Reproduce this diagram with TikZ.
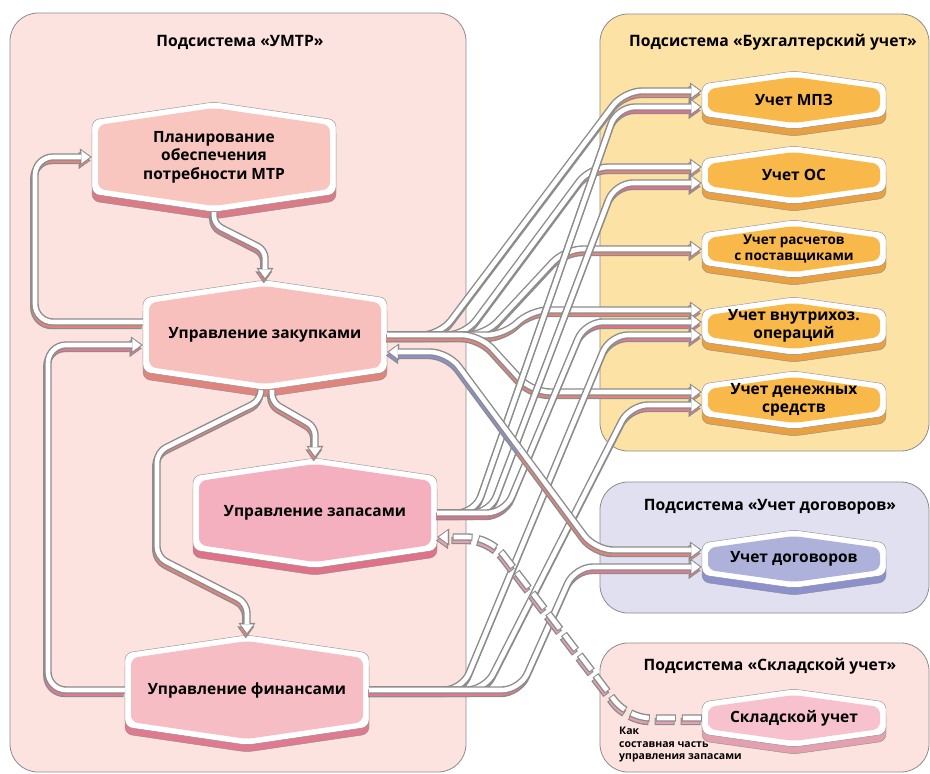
\documentclass[tikz,border=0pt]{standalone}
\usepackage{fontspec}
\setmainfont{Open Sans}
\usepackage{tikz}
\usetikzlibrary{arrows.meta}

% hexagon outline round the origin: half width, peak, side
\newcommand{\hexpath}[3]{({-(#1)},0) -- ({-(#1)},{-(#3)}) -- (0,{-(#2)}) -- ({#1},{-(#3)}) -- ({#1},{#3}) -- (0,{#2}) -- ({-(#1)},{#3}) -- cycle}
% [node options], name, centre, half width, peak, side, colour prefix, text
\newcommand{\hexbox}[8][]{%
	\begin{scope}[shift={(#3)},rounded corners=7pt]
		\filldraw[draw=linegray,fill=#7shade,shift={(0,7)}] \hexpath{#4}{#5}{#6};
		\filldraw[draw=linegray,fill=white] \hexpath{#4}{#5}{#6};
		\fill[#7fill] \hexpath{#4-6}{#5-6}{#6-5};
	\end{scope}
	\node[hexlabel,minimum width={2*#4},minimum height={2*#5},#1] (#2) at (#3) {#8};
}
% [options], shadow colour, path
\newcommand{\pipe}[3][]{%
	\begin{scope}[transform canvas={xshift=-1.2pt,yshift=-3.5pt}]
		\draw[pipeline=#2,#1] #3;
	\end{scope}
	\draw[pipeline=white,#1] #3;
}

\begin{document}
\begin{tikzpicture}
		[x=1pt,y=-1pt,
		%Styles
		panel/.style={draw=linegray,line width=0.8pt,rounded corners=28pt},
		title/.style={font=\bfseries\fontsize{15.7}{18}\selectfont,inner sep=0pt},
		hexlabel/.style={font=\bfseries\fontsize{15.5}{18.5}\selectfont,align=center,inner sep=0pt},
		note/.style={font=\bfseries\fontsize{10.5}{12.5}\selectfont,align=left,inner sep=0pt},
		pipeedge/.style={solid},
		pipeline/.style={draw=#1,line width=4.6pt,rounded corners=18pt,
			-{Triangle[length=8.6pt,width=12.6pt,line width=0.4pt]},shorten >=1.9pt,
			preaction={draw=linegray,line width=7.4pt,shorten >=0pt,pipeedge,
				-{Triangle[length=12pt,width=17pt,line width=0.4pt]}}},
		dashes/.style={dash pattern=on 18pt off 8pt,dash phase=25pt,
			pipeedge/.style={dash pattern=on 20pt off 6pt,dash phase=0pt}}
		]
		
		%Colors
		\definecolor{linegray}{HTML}{8C8C8C}
		\definecolor{panelpink}{HTML}{FDE3E0}
		\definecolor{panelyellow}{HTML}{FDE2A6}
		\definecolor{panelviolet}{HTML}{E0E0F0}
		\definecolor{planfill}{HTML}{F8C5BF}
		\definecolor{planshade}{HTML}{D97C87}
		\definecolor{zakfill}{HTML}{F8C0BD}
		\definecolor{zakshade}{HTML}{E0857E}
		\definecolor{zapfill}{HTML}{F5B0C0}
		\definecolor{zapshade}{HTML}{DF7189}
		\definecolor{finfill}{HTML}{F7BDC5}
		\definecolor{finshade}{HTML}{E07A90}
		\definecolor{acctfill}{HTML}{F8B84A}
		\definecolor{acctshade}{HTML}{E8A040}
		\definecolor{dogfill}{HTML}{AEB1D9}
		\definecolor{dogshade}{HTML}{8C90CC}
		\definecolor{skladfill}{HTML}{F7C2CE}
		\definecolor{skladshade}{HTML}{E5A0B0}
		
		\useasboundingbox (0,0) rectangle (930,774);
		
		%Subsystems
		\draw[panel,fill=panelpink] (10,13) rectangle (466,772);
		\draw[panel,fill=panelyellow] (600,14) rectangle (929,451);
		\draw[panel,fill=panelviolet] (600,482) rectangle (929,613);
		\draw[panel,fill=panelpink] (600,643) rectangle (929,772);
		\node[title] (tumtr) at (240,42) {Подсистема «УМТР»};
		\node[title] (tacct) at (773,42) {Подсистема «Бухгалтерский учет»};
		\node[title] (tdog) at (770,507) {Подсистема «Учет договоров»};
		\node[title] (tsklad) at (770,666) {Подсистема «Складской учет»};
		
		%The graphic
		\hexbox{plan}{214,157}{122}{55}{37}{plan}{Планирование\\обеспечения\\потребности МТР}
		\hexbox{zak}{265,335}{122}{55}{37}{zak}{Управление закупками}
		\hexbox{zap}{315,513}{122}{55}{37}{zap}{Управление запасами}
		\hexbox{fin}{247,690}{122}{55}{37}{fin}{Управление финансами}
		\hexbox{mpz}{794,100}{92}{29}{16}{acct}{Учет МПЗ}
		\hexbox{os}{794,175}{92}{29}{16}{acct}{Учет ОС}
		\hexbox[font=\bfseries\fontsize{13.5}{16}\selectfont]{rasch}{794,249}{92}{29}{16}{acct}{Учет расчетов\\с поставщиками}
		\hexbox{vnutr}{794,326}{92}{29}{16}{acct}{Учет внутрихоз.\\операций}
		\hexbox{den}{794,400}{92}{29}{16}{acct}{Учет денежных\\средств}
		\hexbox{dog}{794,559}{92}{29}{16}{dog}{Учет договоров}
		\hexbox{sklad}{794,718}{92}{29}{16}{sklad}{Складской учет}
		\node[note,anchor=north west] (kak) at (619,727) {Как\\составная часть\\управления запасами};
		
		%Inside УМТР
		\pipe{zakshade}{([yshift=13pt]zak.west) -- (35,322) |- (plan.west)}
		\pipe[rounded corners=8pt]{planshade}{(plan.south) -- ++(0,12) -- (265,250) -- (zak.north)}
		\pipe[rounded corners=8pt]{zakshade}{([xshift=7pt]zak.south) -- ++(0,12) -- (315,427) -- (zap.north)}
		\pipe[rounded corners=10pt]{zakshade}{([xshift=-4pt]zak.south) -- ++(0,10) -- (157,452) -- (157,557) -- (247,603) -- (fin.north)}
		\pipe{finshade}{(fin.west) -- (48,690) |- ([yshift=-10pt]zak.west)}
		
		%To the other subsystems
		\pipe{zakshade}{(zak.east) -- (440,335) -- (624,91) -- ([yshift=9pt]mpz.west)}
		\pipe{zakshade}{(zak.east) -- (465,335) -- (590,167) -- ([yshift=8pt]os.west)}
		\pipe{zakshade}{(zak.east) -- (485,335) -- (565,249) -- (rasch.west)}
		\pipe{zakshade}{(zak.east) -- (505,335) -- (530,310) -- ([yshift=16pt]vnutr.west)}
		\pipe{zakshade}{(zak.east) -- (480,335) -- (532,392) -- ([yshift=8pt]den.west)}
		\pipe{zapshade}{(zap.east) -- (475,513) -- (617,107) -- ([yshift=-7pt]mpz.west)}
		\pipe{zapshade}{(zap.east) -- (490,513) -- (615,183) -- ([yshift=-8pt]os.west)}
		\pipe{zapshade}{(zap.east) -- (505,513) -- (585,322) -- ([yshift=4pt]vnutr.west)}
		\pipe{finshade}{(fin.east) -- (462,690) -- (610,335) -- ([yshift=-9pt]vnutr.west)}
		\pipe{finshade}{(fin.east) -- (485,690) -- (630,405) -- ([yshift=-5pt]den.west)}
		\pipe{finshade}{(fin.east) -- (520,690) -- (575,567) -- ([yshift=-8pt]dog.west)}
		\coordinate (dogmid) at (520,449);
		\pipe{dogshade}{(dogmid) -- (448,352) -- ([yshift=-17pt]zak.east)}
		\pipe{zakshade}{(dogmid) -- (595,550) -- ([yshift=9pt]dog.west)}
		\pipe[dashes,rounded corners=22pt]{skladshade}{(sklad.west) -- (628,718) -- (490,537) -- ([yshift=-24pt]zap.east)}
	\end{tikzpicture}
\end{document}
